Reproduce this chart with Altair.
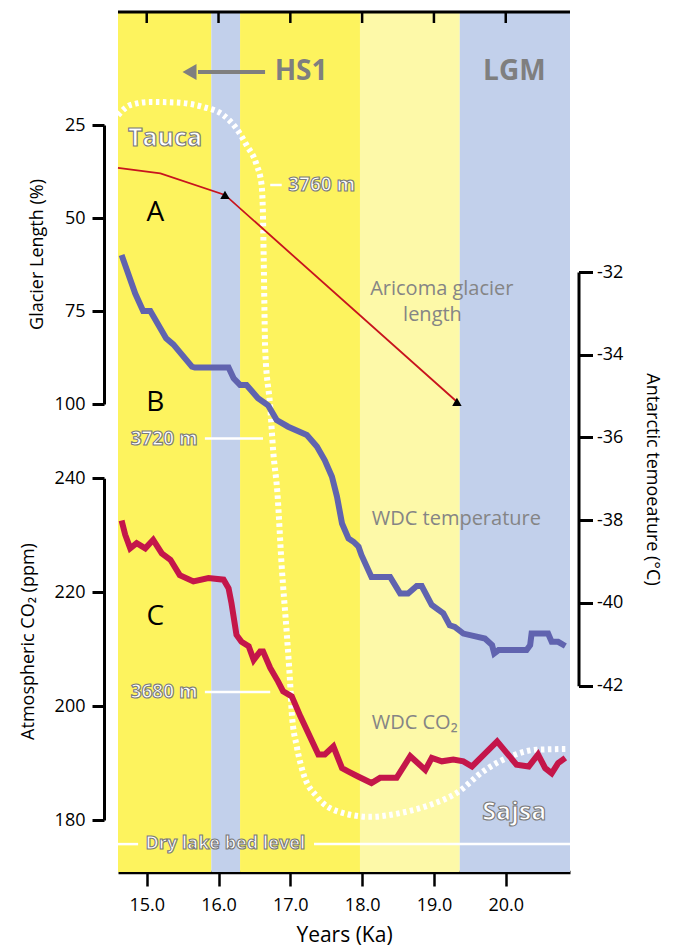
import altair as alt
import pandas as pd

# ---------------- data ----------------
x_domain = [14.6, 20.895]
x_ticks = [15, 16, 17, 18, 19, 20]

band_start = [14.60, 15.90, 16.30, 17.97, 19.36]
band_end = [15.90, 16.30, 17.97, 19.36, 20.895]
band_phase = ["HS1", "pause", "HS1", "late LGM", "LGM"]

# A: Aricoma glacier length (%)
gl_year = [14.60, 15.19, 16.09, 19.32]
gl_length = [36.5, 38.0, 43.8, 99.4]
gl_dated_year = [16.09, 19.32]
gl_dated_length = [43.8, 99.4]

# B: WDC temperature (deg C)
t_year = [14.65, 14.84, 14.95, 15.05, 15.27, 15.37, 15.63, 15.67, 16.14, 16.21,
          16.30, 16.39, 16.55, 16.69, 16.81, 16.97, 17.23, 17.37, 17.48, 17.58,
          17.65, 17.72, 17.81, 17.88, 17.95, 17.99, 18.13, 18.39, 18.53, 18.64,
          18.76, 18.83, 18.97, 19.13, 19.22, 19.29, 19.41, 19.71, 19.81, 19.84,
          19.90, 20.29, 20.34, 20.36, 20.59, 20.64, 20.73, 20.83]
t_val = [-31.59, -32.52, -32.94, -32.94, -33.60, -33.75, -34.29, -34.31, -34.31, -34.57,
         -34.73, -34.73, -35.05, -35.22, -35.58, -35.74, -35.94, -36.22, -36.55, -36.95,
         -37.43, -38.08, -38.44, -38.52, -38.64, -38.84, -39.37, -39.37, -39.77, -39.77,
         -39.59, -39.59, -40.05, -40.25, -40.54, -40.58, -40.74, -40.86, -41.02, -41.22,
         -41.14, -41.14, -41.02, -40.74, -40.74, -40.94, -40.94, -41.04]

# C: WDC CO2 (ppm)
c_year = [14.65, 14.70, 14.77, 14.86, 14.98, 15.09, 15.21, 15.33, 15.46, 15.65,
          15.86, 16.07, 16.14, 16.18, 16.25, 16.32, 16.42, 16.49, 16.58, 16.62,
          16.72, 16.83, 16.90, 17.02, 17.14, 17.39, 17.48, 17.60, 17.72, 17.81,
          17.95, 18.13, 18.25, 18.48, 18.67, 18.88, 18.97, 19.11, 19.27, 19.41,
          19.53, 19.88, 20.15, 20.32, 20.45, 20.55, 20.64, 20.73, 20.83]
c_val = [232.6, 230.1, 227.7, 228.6, 227.7, 229.2, 226.8, 225.7, 223.0, 221.9,
         222.5, 222.2, 220.7, 218.1, 212.5, 211.3, 210.5, 208.1, 209.6, 209.6,
         206.7, 204.3, 202.6, 201.7, 198.2, 191.5, 191.5, 192.9, 189.1, 188.5,
         187.6, 186.5, 187.4, 187.4, 191.2, 188.8, 190.9, 190.3, 190.6, 190.3,
         189.4, 193.8, 189.7, 189.4, 191.5, 189.1, 188.2, 190.0, 190.9]

# Paleolake level (m): Tauca / Sajsa
lk_year = [14.60, 14.77, 15.05, 15.42, 15.79, 16.07, 16.25, 16.39, 16.53, 16.60,
           16.62, 16.63, 16.65, 16.72, 16.76, 16.82, 16.88, 16.95, 17.00, 17.02,
           17.09, 17.18, 17.37, 17.65, 18.11, 18.53, 18.95, 19.32, 19.69, 20.06,
           20.43, 20.83]
lk_elev = [3771.0, 3772.6, 3773.1, 3773.0, 3772.3, 3771.0, 3768.9, 3766.3, 3763.2, 3760.0,
           3754.7, 3747.9, 3734.0, 3725.0, 3718.2, 3711.4, 3699.8, 3689.3, 3680.9, 3676.7,
           3671.4, 3667.2, 3663.5, 3661.2, 3660.3, 3660.9, 3662.2, 3664.1, 3667.5, 3669.8,
           3670.9, 3671.0]
# level marks (elevation, from year, to year)
lm_elev = [3760, 3720, 3680, 3656, 3656]
lm_from = [16.72, 15.81, 15.81, 14.60, 17.33]
lm_to = [16.88, 16.62, 16.72, 14.88, 20.895]

# labels
lk_lab_text = ["3760 m"]
lk_lab_year = [16.97]
lk_lab_elev = [3760]
lk_rlab_text = ["3720 m", "3680 m"]
lk_rlab_year = [15.71, 15.71]
lk_rlab_elev = [3720, 3680]
lk_big_text = ["Tauca", "Sajsa"]
lk_big_year = [15.255, 20.12]
lk_big_elev = [3767.4, 3661.0]
dry_text = ["Dry lake bed level"]
dry_year = [16.095]
dry_elev = [3656]

abc_gl_text = ["A", "B"]
abc_gl_year = [15.12, 15.12]
abc_gl_val = [48.7, 99.7]
abc_co_text = ["C"]
abc_co_year = [15.12]
abc_co_val = [215.7]

head_text = ["HS1", "LGM"]
head_year = [17.15, 20.12]
head_val = [10.75, 10.75]
arrow_from = [15.714]
arrow_to = [16.648]
arrow_val = [10.75]
arrow_head_year = [15.596]

ar_text = ["Aricoma glacier", "length"]
ar_year = [19.11, 18.98]
ar_val = [69.2, 76.1]
wt_text = ["WDC temperature"]
wt_year = [18.134]
wt_val = [-37.98]
wc_text = ["WDC CO\u2082"]
wc_year = [18.134]
wc_val = [197.1]

# ---------------- scales / axes ----------------
W, H = 452, 860
FONT = "Open Sans"
XS = alt.Scale(domain=x_domain, nice=False, zero=False)


def ysc(domain, rng):
    return alt.Scale(domain=domain, range=rng, nice=False, zero=False)


GL = ysc([25, 100], [113, 392])
TE = ysc([-42, -32], [673.7, 260])
CO = ysc([180, 240], [808, 466.3])
LK = ysc([3680, 3760], [680, 173])

XAX = alt.Axis(values=x_ticks, format=".1f", title="Years (Ka)", grid=False,
               domainColor="black", domainWidth=3.5, tickColor="black", tickWidth=2.5,
               tickSize=14, labelFontSize=18, labelPadding=10, labelColor="black",
               labelFont=FONT, titleFont=FONT, titleFontSize=21, titleFontWeight="normal",
               titleColor="black", titleY=63, titleBaseline="middle")


def X(field="year"):
    return alt.X(f"{field}:Q", scale=XS, axis=XAX)


def yaxis(orient, offset, values, title, tx, ty, angle, **kw):
    return alt.Axis(orient=orient, offset=offset, values=values, title=title, grid=False,
                    domainColor="black", domainWidth=3, tickColor="black", tickWidth=3,
                    labelFontSize=18, labelColor="black", labelFont=FONT,
                    titleFont=FONT, titleFontSize=18, titleFontWeight="normal",
                    titleColor="black", titleX=tx, titleY=ty, titleAngle=angle,
                    titleAlign="center", titleBaseline="middle", **kw)


GLAX = yaxis("left", 14, [25, 50, 75, 100], "Glacier Length (%)", -67, 242, 270,
             tickSize=12, labelPadding=7)
COAX = yaxis("left", 14, [180, 200, 220, 240], "Atmospheric CO\u2082 (ppm)", -76, 629, 270,
             tickSize=12, labelPadding=7)
TEAX = yaxis("right", 8.5, [-32, -34, -36, -38, -40, -42], "Antarctic temoeature (\u00b0C)",
             73, 467, 90, tickSize=14, labelPadding=4,
             labelExpr="toString(datum.value)")

# ---------------- layers ----------------
bands = alt.Chart(pd.DataFrame({"start": band_start, "end": band_end, "phase": band_phase})).mark_rect().encode(
    x=X("start"), x2="end",
    color=alt.Color("phase:N", legend=None,
                    scale=alt.Scale(domain=["HS1", "pause", "late LGM", "LGM"],
                                    range=["#FDF35E", "#C2D0EB", "#FDF9A8", "#C2D0EB"])))

top_line = alt.Chart(pd.DataFrame({"year": [x_domain[0]], "end": [x_domain[1]]})).mark_rule(
    color="black", strokeWidth=3).encode(x=X(), x2="end", y=alt.value(0))
top_ticks = alt.Chart(pd.DataFrame({"year": x_ticks})).mark_rule(
    color="black", strokeWidth=2.5).encode(x=X(), y=alt.value(0), y2=alt.value(11))

lake = alt.Chart(pd.DataFrame({"year": lk_year, "elev": lk_elev})).mark_line(
    color="white", strokeWidth=6, strokeDash=[3.5, 3.5], interpolate="monotone").encode(
    x=X(), y=alt.Y("elev:Q", scale=LK, axis=None))
lake_marks = alt.Chart(pd.DataFrame({"year": lm_from, "end": lm_to, "elev": lm_elev})).mark_rule(
    color="white", strokeWidth=2.5).encode(x=X(), x2="end", y=alt.Y("elev:Q", scale=LK, axis=None))


def text_layer(texts, years, vals, scale, **kw):
    df = pd.DataFrame({"year": years, "v": vals, "label": texts})
    return alt.Chart(df).mark_text(font=FONT, baseline="middle", **kw).encode(
        x=X(), y=alt.Y("v:Q", scale=scale, axis=None), text="label:N")


OUT = dict(fill="white", stroke="#7a7a7a", strokeWidth=1.1, fontWeight="bold")
lk_l = text_layer(lk_lab_text, lk_lab_year, lk_lab_elev, LK, align="left", fontSize=19, **OUT)
lk_r = text_layer(lk_rlab_text, lk_rlab_year, lk_rlab_elev, LK, align="right", fontSize=19, **OUT)
lk_b = text_layer(lk_big_text, lk_big_year, lk_big_elev, LK, align="center", fontSize=25, **OUT)
lk_d = text_layer(dry_text, dry_year, dry_elev, LK, align="center", fontSize=18, **OUT)

glac = alt.Chart(pd.DataFrame({"year": gl_year, "len": gl_length})).mark_line(
    color="#C8141E", strokeWidth=1.8).encode(x=X(), y=alt.Y("len:Q", scale=GL, axis=GLAX))
glac_pts = alt.Chart(pd.DataFrame({"year": gl_dated_year, "len": gl_dated_length})).mark_point(
    shape="triangle-up", filled=True, color="black", opacity=1, size=90).encode(
    x=X(), y=alt.Y("len:Q", scale=GL, axis=None))

temp = alt.Chart(pd.DataFrame({"year": t_year, "t": t_val})).mark_line(
    color="#6063AF", strokeWidth=6).encode(x=X(), y=alt.Y("t:Q", scale=TE, axis=TEAX))
co2 = alt.Chart(pd.DataFrame({"year": c_year, "c": c_val})).mark_line(
    color="#C4164A", strokeWidth=6).encode(x=X(), y=alt.Y("c:Q", scale=CO, axis=COAX))

abc1 = text_layer(abc_gl_text, abc_gl_year, abc_gl_val, GL, align="center", fontSize=28, color="black")
abc2 = text_layer(abc_co_text, abc_co_year, abc_co_val, CO, align="center", fontSize=28, color="black")
head = text_layer(head_text, head_year, head_val, GL, align="center", fontSize=28,
                  fontWeight="bold", color="#7f7f7f")
arrow = alt.Chart(pd.DataFrame({"year": arrow_from, "end": arrow_to, "v": arrow_val})).mark_rule(
    color="#7f7f7f", strokeWidth=4).encode(x=X(), x2="end", y=alt.Y("v:Q", scale=GL, axis=None))
arrow_h = alt.Chart(pd.DataFrame({"year": arrow_head_year, "v": arrow_val})).mark_point(
    shape="triangle-left", filled=True, color="#7f7f7f", opacity=1, size=260).encode(
    x=X(), y=alt.Y("v:Q", scale=GL, axis=None))
ar = text_layer(ar_text, ar_year, ar_val, GL, align="center", fontSize=20, color="#858585")
wt = text_layer(wt_text, wt_year, wt_val, TE, align="left", fontSize=20, color="#858585")
wc = text_layer(wc_text, wc_year, wc_val, CO, align="left", fontSize=20, color="#858585")

chart = alt.layer(
    bands, top_line, top_ticks, lake, lake_marks, lk_l, lk_r, lk_b, lk_d,
    glac, glac_pts, temp, co2, abc1, abc2, head, arrow, arrow_h, ar, wt, wc
).resolve_scale(y="independent").properties(
    width=W, height=H,
    padding={"left": 110, "top": 4, "right": 95, "bottom": 78},
    autosize=alt.AutoSizeParams(type="none"),
).configure(font=FONT).configure_view(stroke=None)

chart.save("out.html", embed_options={"renderer": "svg", "actions": False})
